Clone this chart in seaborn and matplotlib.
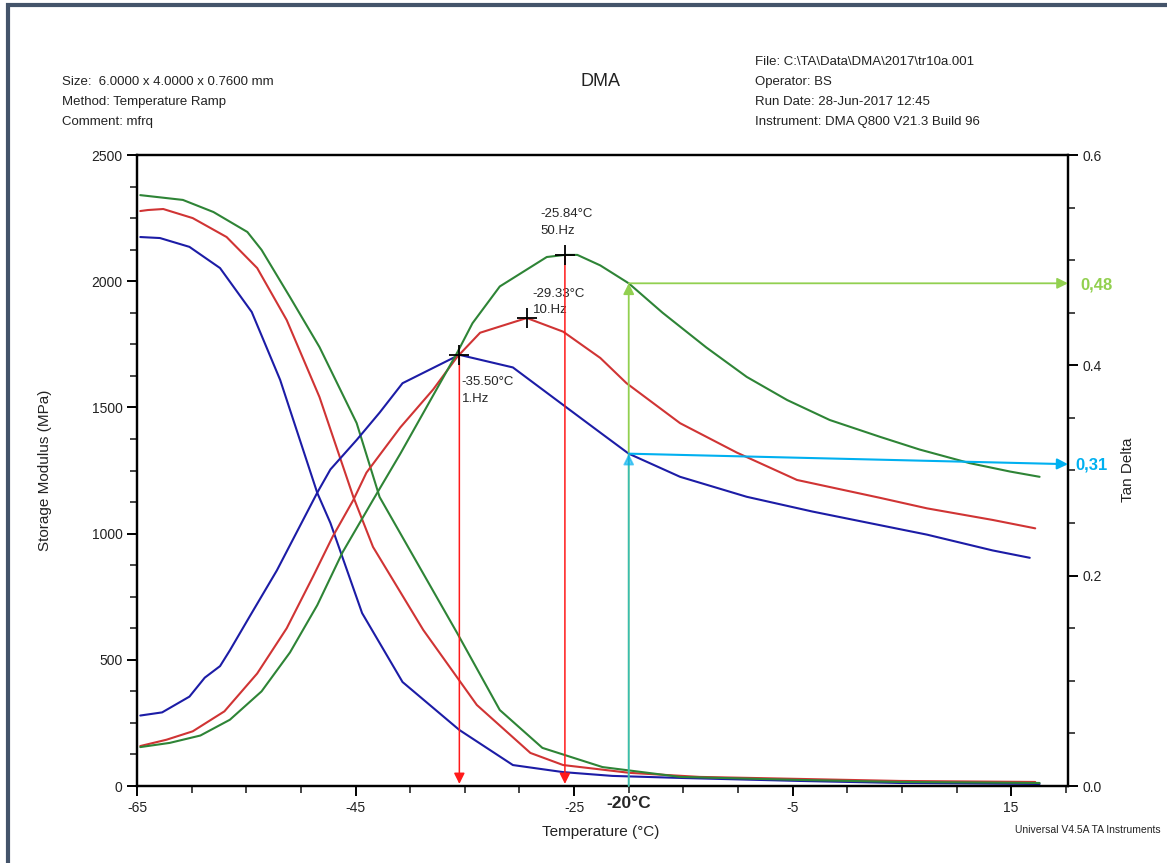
import numpy as np
import pandas as pd
import matplotlib
matplotlib.use("Agg")
import matplotlib.pyplot as plt
import matplotlib.transforms as mtransforms
from matplotlib.patches import Rectangle
from matplotlib.ticker import MultipleLocator
import seaborn as sns

# storage modulus (MPa) for 1, 10 and 50 Hz
t_e_1hz = [-64.7, -62.9, -60.2, -57.4, -54.5, -51.9, -48.5, -47.3, -44.4, -40.7,
           -35.5, -30.6, -26.0, -21.5, -15.3, -4.3, 4.8, 17.6]
e_1hz = [2175, 2171, 2136, 2052, 1878, 1609, 1161, 1042, 685, 412,
         222, 83, 55, 40, 32, 20, 12, 8]

t_e_10hz = [-64.7, -64.0, -62.6, -59.9, -56.8, -54.0, -51.3, -48.3, -45.2, -43.4,
            -38.8, -33.9, -29.0, -26.0, -19.9, -13.5, -4.3, 4.8, 17.2]
e_10hz = [2278, 2282, 2286, 2250, 2175, 2052, 1846, 1541, 1145, 947,
          618, 321, 131, 83, 52, 36, 28, 20, 16]

t_e_50hz = [-64.7, -60.8, -58.0, -54.9, -53.6, -51.0, -48.3, -44.9, -42.8, -35.7,
            -31.8, -27.9, -22.4, -15.3, -4.3, 4.8, 17.6]
e_50hz = [2341, 2322, 2274, 2195, 2124, 1937, 1739, 1438, 1145, 606,
          301, 151, 75, 36, 24, 16, 12]

# tan delta for 1, 10 and 50 Hz
t_tan_1hz = [-64.7, -62.7, -60.2, -58.8, -57.4, -56.5, -54.7, -52.2, -50.4, -48.5,
             -47.3, -44.9, -42.8, -40.7, -35.5, -30.6, -25.7, -22.6, -20.0, -15.3,
             -9.2, -3.2, 3.0, 7.3, 13.3, 16.7]
tan_1hz = [0.067, 0.070, 0.085, 0.103, 0.114, 0.129, 0.161, 0.205, 0.241, 0.279,
           0.301, 0.329, 0.355, 0.383, 0.410, 0.398, 0.360, 0.336, 0.316, 0.294,
           0.275, 0.261, 0.248, 0.239, 0.224, 0.217]

t_tan_10hz = [-64.7, -62.3, -59.9, -57.0, -54.0, -51.3, -48.9, -47.1, -45.2, -44.0,
              -40.9, -37.9, -35.7, -33.6, -29.33, -26.0, -22.6, -20.2, -15.3, -10.1,
              -4.6, 3.0, 7.3, 13.3, 17.2]
tan_10hz = [0.038, 0.044, 0.052, 0.071, 0.107, 0.150, 0.199, 0.237, 0.272, 0.298,
            0.341, 0.377, 0.408, 0.431, 0.445, 0.432, 0.407, 0.383, 0.345, 0.317,
            0.291, 0.274, 0.264, 0.253, 0.245]

t_tan_50hz = [-64.7, -62.0, -59.2, -56.5, -53.6, -51.0, -48.5, -46.2, -43.4, -40.9,
              -35.7, -34.3, -31.8, -27.5, -25.84, -24.7, -22.6, -20.0, -16.9, -12.9,
              -9.2, -5.5, -1.6, 3.0, 6.6, 11.2, 14.9, 17.6]
tan_50hz = [0.037, 0.041, 0.048, 0.063, 0.090, 0.127, 0.172, 0.222, 0.272, 0.316,
            0.412, 0.440, 0.475, 0.503, 0.505, 0.505, 0.495, 0.478, 0.450, 0.417,
            0.389, 0.367, 0.348, 0.332, 0.320, 0.307, 0.299, 0.294]

freqs = ["1.Hz", "10.Hz", "50.Hz"]
colors = ["#1c1ca6", "#d03434", "#2e8436"]
peak_t = [-35.50, -29.33, -25.84]
peak_tan = [0.410, 0.445, 0.505]
read_t = -20.0
read_tan = [0.31, 0.48]

sns.set_style("ticks")
plt.rcParams["font.family"] = ["Liberation Sans", "DejaVu Sans"]
plt.rcParams["axes.unicode_minus"] = False

fig = plt.figure(figsize=(11.67, 8.63), dpi=100)
ax = fig.add_axes([137 / 1167, 1 - 786 / 863, (1068 - 137) / 1167, (786 - 155) / 863])
ax2 = ax.twinx()

for t, e, c in zip([t_e_1hz, t_e_10hz, t_e_50hz], [e_1hz, e_10hz, e_50hz], colors):
    sns.lineplot(x=t, y=e, ax=ax, color=c, lw=1.5, sort=False, estimator=None)
for t, d, c in zip([t_tan_1hz, t_tan_10hz, t_tan_50hz], [tan_1hz, tan_10hz, tan_50hz], colors):
    sns.lineplot(x=t, y=d, ax=ax2, color=c, lw=1.5, sort=False, estimator=None)

ax.set_xlim(-65, 20.2)
ax.set_ylim(0, 2500)
ax2.set_ylim(0, 0.6)
ax.set_xticks([-65, -45, -25, -5, 15])
ax.xaxis.set_minor_locator(MultipleLocator(5))
ax.set_yticks([0, 500, 1000, 1500, 2000, 2500])
ax.yaxis.set_minor_locator(MultipleLocator(125))
ax2.set_yticks([0.0, 0.2, 0.4, 0.6])
ax2.set_yticklabels(["0.0", "0.2", "0.4", "0.6"])
ax2.yaxis.set_minor_locator(MultipleLocator(0.05))

for a in (ax, ax2):
    for s in a.spines.values():
        s.set_linewidth(1.6)
        s.set_color("black")
    a.tick_params(which="major", length=7, width=1.4, labelsize=10, colors="black",
                  labelcolor="#222222")
    a.tick_params(which="minor", length=5, width=1.2)
ax.tick_params(axis="x", which="both", top=False)
ax.set_xlabel("")
ax.set_ylabel("")
ax2.set_ylabel("")

# peak markers and labels
ax2.scatter(peak_t, peak_tan, marker="+", s=220, color="black", lw=1.3, zorder=5)
ax2.text(-28.1, 0.550, "-25.84°C\n50.Hz", fontsize=9.5, va="top", ha="left", linespacing=1.55)
ax2.text(-28.8, 0.474, "-29.33°C\n10.Hz", fontsize=9.5, va="top", ha="left", linespacing=1.55)
ax2.text(-35.3, 0.390, "-35.50°C\n1.Hz", fontsize=9.5, va="top", ha="left", linespacing=1.55)

# red drop arrows
for pt, pv in [(peak_t[0], peak_tan[0]), (peak_t[2], peak_tan[2])]:
    ax2.annotate("", xy=(pt, 0.002), xytext=(pt, pv),
                 arrowprops=dict(arrowstyle="-|>", color="#ff1a1a", lw=1.1,
                                 mutation_scale=16, shrinkA=0, shrinkB=0))

# -20 °C reading arrows
arrow_kw = dict(mutation_scale=16, shrinkA=0, shrinkB=0)
ax2.annotate("", xy=(read_t, 0.478), xytext=(read_t, 0.0),
             arrowprops=dict(arrowstyle="-|>", color="#92d050", lw=1.3, **arrow_kw))
ax2.annotate("", xy=(read_t, 0.316), xytext=(read_t, 0.0),
             arrowprops=dict(arrowstyle="-|>", color="#00b0f0", lw=1.3, alpha=0.6, **arrow_kw))
ax2.annotate("", xy=(20.2, 0.478), xytext=(read_t, 0.478), annotation_clip=False,
             arrowprops=dict(arrowstyle="-|>", color="#92d050", lw=1.3, **arrow_kw))
ax2.annotate("", xy=(20.2, 0.306), xytext=(read_t, 0.316), annotation_clip=False,
             arrowprops=dict(arrowstyle="-|>", color="#00b0f0", lw=1.5, **arrow_kw))

trans = mtransforms.blended_transform_factory(ax.transData, ax.transAxes)
ax.text(read_t, -0.027, "-20°C", transform=trans, ha="center", va="center",
        fontsize=12.5, fontweight="bold")

fig.text(1080 / 1167, 1 - 285 / 863, "0,48", color="#92d050", fontsize=12,
         fontweight="bold", va="center", ha="left")
fig.text(1075 / 1167, 1 - 465 / 863, "0,31", color="#00b0f0", fontsize=12,
         fontweight="bold", va="center", ha="left")

# header and labels
hdr = dict(fontsize=9.5, va="center", ha="left", color="#222222")
for i, line in enumerate(["Size:  6.0000 x 4.0000 x 0.7600 mm", "Method: Temperature Ramp",
                          "Comment: mfrq"]):
    fig.text(62 / 1167, 1 - (82 + 20 * i) / 863, line, **hdr)
for i, line in enumerate(["File: C:\\TA\\Data\\DMA\\2017\\tr10a.001", "Operator: BS",
                          "Run Date: 28-Jun-2017 12:45", "Instrument: DMA Q800 V21.3 Build 96"]):
    fig.text(755 / 1167, 1 - (62 + 20 * i) / 863, line, **hdr)
fig.text(601 / 1167, 1 - 81 / 863, "DMA", fontsize=13, ha="center", va="center", color="#222222")
fig.text(601 / 1167, 1 - 832 / 863, "Temperature (°C)", fontsize=11, ha="center", va="center",
         color="#222222")
fig.text(45 / 1167, 1 - 470 / 863, "Storage Modulus (MPa)", fontsize=11, rotation=90,
         ha="center", va="center", color="#222222")
fig.text(1128 / 1167, 1 - 470 / 863, "Tan Delta", fontsize=11, rotation=90,
         ha="center", va="center", color="#222222")
fig.text(1088 / 1167, 1 - 830 / 863, "Universal V4.5A TA Instruments", fontsize=7.5,
         ha="center", va="center", color="#222222")

fig.patches.append(Rectangle((8 / 1167, -0.05), 1.2, 1.05 - 5 / 863, transform=fig.transFigure,
                             fill=False, edgecolor="#44546a", lw=3))

fig.savefig("out.png", dpi=100)
